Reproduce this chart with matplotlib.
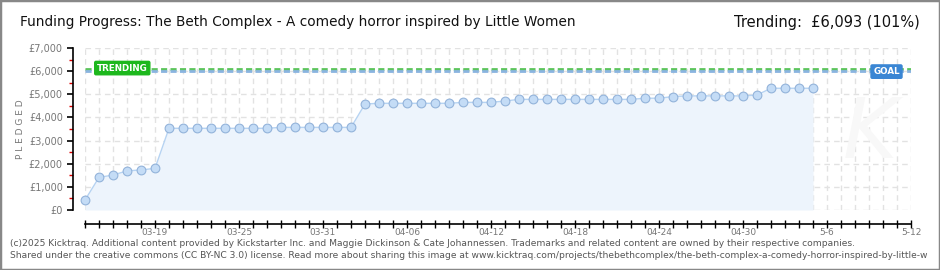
import datetime as dt
import matplotlib
matplotlib.use("Agg")
import matplotlib.pyplot as plt
import matplotlib.dates as mdates
from matplotlib.patches import Rectangle
from matplotlib.ticker import MultipleLocator, FuncFormatter

# pledged total per day, starting 2025-03-14
pledged = [430, 1410, 1510, 1690, 1730, 1800,
           3530, 3530, 3530, 3530, 3530, 3530, 3530, 3530,
           3570, 3570, 3570, 3570, 3570, 3570,
           4580, 4610, 4610, 4610, 4610, 4610, 4610,
           4650, 4650, 4650, 4710,
           4780, 4780, 4780, 4780, 4780, 4780, 4780, 4780, 4780,
           4830, 4830, 4900,
           4930, 4930, 4930, 4930, 4930, 4970,
           5260, 5260, 5260, 5260]
start = dt.date(2025, 3, 14)
end = dt.date(2025, 5, 12)
goal = 6000
trending = 6093
label_days = ["2025-03-19", "2025-03-25", "2025-03-31", "2025-04-06", "2025-04-12",
              "2025-04-18", "2025-04-24", "2025-04-30", "2025-05-06", "2025-05-12"]
label_text = ["03-19", "03-25", "03-31", "04-06", "04-12",
              "04-18", "04-24", "04-30", "5-6", "5-12"]

dates = [start + dt.timedelta(days=i) for i in range(len(pledged))]
all_days = [start + dt.timedelta(days=i) for i in range((end - start).days + 1)]

W, H = 940, 270
fig = plt.figure(figsize=(W / 100, H / 100), dpi=100)
fig.patches.append(Rectangle((0, 0), 1, 1, transform=fig.transFigure,
                             fill=False, edgecolor="#888888", linewidth=2.5))

ax = fig.add_axes([85 / W, (H - 210) / H, 826 / W, 162 / H])
ax.set_xlim(mdates.date2num(start), mdates.date2num(end))
ax.set_ylim(0, 7000)

# grid
for d in all_days:
    ax.axvline(mdates.date2num(d), color="#e2e2e2", lw=1, dashes=(4, 3), zorder=0)
for v in range(0, 7001, 1000):
    ax.axhline(v, color="#e2e2e2", lw=1, dashes=(4, 3), zorder=0)

# area + line
xs = mdates.date2num(dates)
ax.fill_between(xs, pledged, 0, color="#edf4fc", zorder=1, lw=0)
ax.plot(xs, pledged, color="#b6d3f2", lw=1, zorder=2)
ax.plot(xs, pledged, "o", ms=6.3, mfc="#c4dcf6", mec="#93b3da", mew=0.8,
        zorder=3, clip_on=False)

# goal / trending lines
ax.axhline(trending, color="#5cc45c", lw=2, dashes=(2.2, 1.2), zorder=2)
ax.axhline(goal, color="#8ab4e0", lw=2, dashes=(2.2, 1.2), zorder=2)

ax.text(mdates.date2num(start) + 0.85, trending + 40, "TRENDING", color="white",
        fontsize=6.3, fontweight="bold", va="center", ha="left", zorder=5,
        bbox=dict(boxstyle="round,pad=0.25,rounding_size=0.15", fc="#1db81d", ec="#1db81d"))
ax.text(mdates.date2num(end) - 2.7, goal - 20, "GOAL", color="white",
        fontsize=6.3, fontweight="bold", va="center", ha="left", zorder=5,
        bbox=dict(boxstyle="round,pad=0.25,rounding_size=0.15", fc="#3a86d4", ec="#3a86d4"))

# spines / ticks
for s in ["top", "right"]:
    ax.spines[s].set_visible(False)
ax.spines["left"].set_position(("outward", 9))
ax.spines["bottom"].set_position(("outward", 10))
ax.spines["left"].set_linewidth(1.2)
ax.spines["bottom"].set_linewidth(1.2)

ax.yaxis.set_major_locator(MultipleLocator(1000))
ax.yaxis.set_minor_locator(MultipleLocator(500))
ax.yaxis.set_major_formatter(FuncFormatter(lambda v, p: "\u00a3{:,.0f}".format(v)))
ax.tick_params(axis="y", which="major", length=4, width=1.2, color="black",
               labelsize=7, labelcolor="#777777", pad=3)
ax.tick_params(axis="y", which="minor", length=3, width=1, color="#dd0000")

ax.set_xticks(mdates.date2num(all_days))
label_nums = [mdates.date2num(dt.date.fromisoformat(s)) for s in label_days]
xlabels = []
for d in all_days:
    n = mdates.date2num(d)
    xlabels.append(label_text[label_nums.index(n)] if n in label_nums else "")
ax.set_xticklabels(xlabels)
ax.tick_params(axis="x", direction="inout", length=6, width=1, color="black",
               labelsize=6.5, labelcolor="#777777", pad=0)

ax.set_ylabel("P L E D G E D", fontsize=6.5, color="#777777", labelpad=3)

# watermark
fig.text(870 / W, 135 / H, "K", fontsize=60, color="#f8f8f8", style="italic",
         ha="center", va="center", zorder=0)

# header / footer
fig.text(20 / W, 1 - 22 / H, "Funding Progress: The Beth Complex - A comedy horror inspired by Little Women",
         fontsize=9.8, color="#111111", va="center", ha="left")
fig.text(920 / W, 1 - 22 / H, "Trending:  \u00a36,093 (101%)",
         fontsize=10.5, color="#111111", va="center", ha="right")
fig.text(10 / W, 1 - 243 / H,
         "(c)2025 Kicktraq. Additional content provided by Kickstarter Inc. and Maggie Dickinson & Cate Johannessen. "
         "Trademarks and related content are owned by their respective companies.",
         fontsize=6.6, color="#555555", va="center", ha="left")
fig.text(10 / W, 1 - 255 / H,
         "Shared under the creative commons (CC BY-NC 3.0) license. Read more about sharing this image at "
         "www.kicktraq.com/projects/thebethcomplex/the-beth-complex-a-comedy-horror-inspired-by-little-w",
         fontsize=6.6, color="#555555", va="center", ha="left")

fig.savefig("out.png", dpi=100)
